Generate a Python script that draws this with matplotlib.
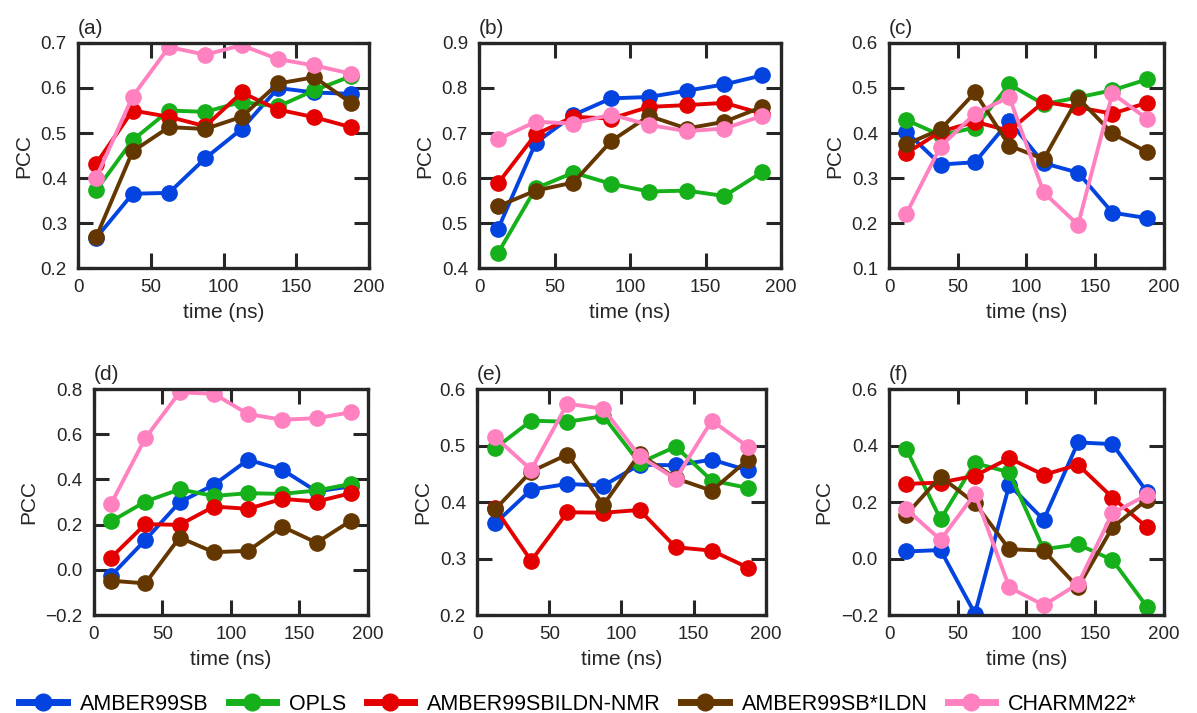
import numpy as np
import matplotlib
matplotlib.use("Agg")
import matplotlib.pyplot as plt

plt.rcParams['font.family'] = ['Liberation Sans', 'DejaVu Sans']

# tiempos de las ventanas (ns)
time_ns = [12.5, 37.5, 62.5, 87.5, 112.5, 137.5, 162.5, 187.5]

names = ['AMBER99SB', 'OPLS', 'AMBER99SBILDN-NMR', 'AMBER99SB*ILDN', 'CHARMM22*']
colors = ['#0343df', '#15b01a', '#e50000', '#653700', '#ff81c0']

# panel (a)
pcc_a = [
    [0.267, 0.365, 0.367, 0.444, 0.509, 0.600, 0.590, 0.587],
    [0.373, 0.484, 0.550, 0.547, 0.569, 0.559, 0.595, 0.626],
    [0.432, 0.550, 0.536, 0.515, 0.590, 0.552, 0.535, 0.513],
    [0.269, 0.459, 0.513, 0.509, 0.536, 0.610, 0.624, 0.567],
    [0.401, 0.581, 0.691, 0.674, 0.695, 0.664, 0.650, 0.632],
]
# panel (b)
pcc_b = [
    [0.486, 0.678, 0.740, 0.777, 0.780, 0.794, 0.808, 0.828],
    [0.433, 0.577, 0.612, 0.587, 0.570, 0.572, 0.560, 0.613],
    [0.588, 0.697, 0.736, 0.732, 0.758, 0.762, 0.767, 0.743],
    [0.537, 0.572, 0.590, 0.682, 0.738, 0.710, 0.725, 0.758],
    [0.686, 0.725, 0.721, 0.741, 0.718, 0.704, 0.710, 0.738],
]
# panel (c)
pcc_c = [
    [0.403, 0.330, 0.335, 0.427, 0.333, 0.312, 0.223, 0.211],
    [0.429, 0.395, 0.412, 0.508, 0.464, 0.479, 0.495, 0.519],
    [0.355, 0.403, 0.425, 0.405, 0.469, 0.457, 0.443, 0.467],
    [0.375, 0.408, 0.490, 0.372, 0.342, 0.478, 0.399, 0.358],
    [0.220, 0.370, 0.443, 0.480, 0.268, 0.196, 0.488, 0.432],
]
# panel (d)
pcc_d = [
    [-0.026, 0.132, 0.299, 0.376, 0.487, 0.443, 0.347, 0.369],
    [0.214, 0.302, 0.356, 0.327, 0.339, 0.336, 0.351, 0.380],
    [0.054, 0.202, 0.199, 0.280, 0.270, 0.314, 0.302, 0.339],
    [-0.048, -0.060, 0.143, 0.078, 0.084, 0.191, 0.120, 0.217],
    [0.292, 0.583, 0.785, 0.779, 0.689, 0.664, 0.671, 0.697],
]
# panel (e)
pcc_e = [
    [0.362, 0.422, 0.432, 0.429, 0.466, 0.465, 0.475, 0.456],
    [0.495, 0.544, 0.542, 0.552, 0.469, 0.498, 0.438, 0.425],
    [0.389, 0.296, 0.382, 0.381, 0.386, 0.320, 0.314, 0.284],
    [0.387, 0.454, 0.484, 0.395, 0.485, 0.442, 0.420, 0.475],
    [0.515, 0.457, 0.574, 0.565, 0.481, 0.441, 0.544, 0.498],
]
# panel (f)
pcc_f = [
    [0.025, 0.030, -0.195, 0.261, 0.137, 0.411, 0.405, 0.237],
    [0.388, 0.139, 0.338, 0.305, 0.033, 0.050, -0.005, -0.170],
    [0.264, 0.269, 0.293, 0.355, 0.296, 0.332, 0.216, 0.111],
    [0.155, 0.290, 0.196, 0.033, 0.028, -0.102, 0.110, 0.208],
    [0.175, 0.066, 0.229, -0.102, -0.165, -0.090, 0.160, 0.225],
]

panels = [
    ('(a)', pcc_a, (0.2, 0.7), [0.2, 0.3, 0.4, 0.5, 0.6, 0.7]),
    ('(b)', pcc_b, (0.4, 0.9), [0.4, 0.5, 0.6, 0.7, 0.8, 0.9]),
    ('(c)', pcc_c, (0.1, 0.6), [0.1, 0.2, 0.3, 0.4, 0.5, 0.6]),
    ('(d)', pcc_d, (-0.2, 0.8), [-0.2, 0.0, 0.2, 0.4, 0.6, 0.8]),
    ('(e)', pcc_e, (0.2, 0.6), [0.2, 0.3, 0.4, 0.5, 0.6]),
    ('(f)', pcc_f, (-0.2, 0.6), [-0.2, 0.0, 0.2, 0.4, 0.6]),
]

# posiciones de los ejes en fracción de figura
rects = [
    [0.0652, 0.6241, 0.2431, 0.3156],
    [0.4002, 0.6241, 0.2523, 0.3156],
    [0.7427, 0.6241, 0.2297, 0.3156],
    [0.0785, 0.1374, 0.2289, 0.3170],
    [0.3985, 0.1374, 0.2414, 0.3170],
    [0.7427, 0.1374, 0.2297, 0.3170],
]

fig = plt.figure(figsize=(11.97, 7.13), dpi=100)
dark = '#262626'

for (label, data, ylim, yticks), rect in zip(panels, rects):
    ax = fig.add_axes(rect)
    for vals, name, c in zip(data, names, colors):
        ax.plot(time_ns, vals, '-o', color=c, lw=2.8, ms=11, label=name)
    ax.set_xlim(0, 200)
    ax.set_ylim(*ylim)
    ax.set_xticks([0, 50, 100, 150, 200])
    ax.set_yticks(yticks)
    ax.set_yticklabels(['%.1f' % v if v >= 0 else '\u2212%.1f' % -v for v in yticks])
    ax.tick_params(direction='in', top=True, right=True, length=11, width=2.2,
                   color=dark, labelcolor=dark, labelsize=13.5, pad=8)
    for sp in ax.spines.values():
        sp.set_linewidth(2.4)
        sp.set_color(dark)
    ax.set_xlabel('time (ns)', fontsize=15, color=dark, labelpad=5)
    ax.set_ylabel('PCC', fontsize=15, color=dark, labelpad=5)
    ax.text(0.0, 1.02, label, transform=ax.transAxes, fontsize=15,
            color=dark, ha='left', va='bottom')

handles, labels = ax.get_legend_handles_labels()
leg = fig.legend(handles, labels, loc='lower left', bbox_to_anchor=(0.0, -0.03),
                 ncol=5, frameon=False, handlelength=2.2, handletextpad=0.6,
                 columnspacing=0.95, prop={'size': 15.5})
for h in leg.legend_handles:
    h.set_linewidth(5)
    h.set_markersize(12)

fig.savefig('out.png', dpi=100)
